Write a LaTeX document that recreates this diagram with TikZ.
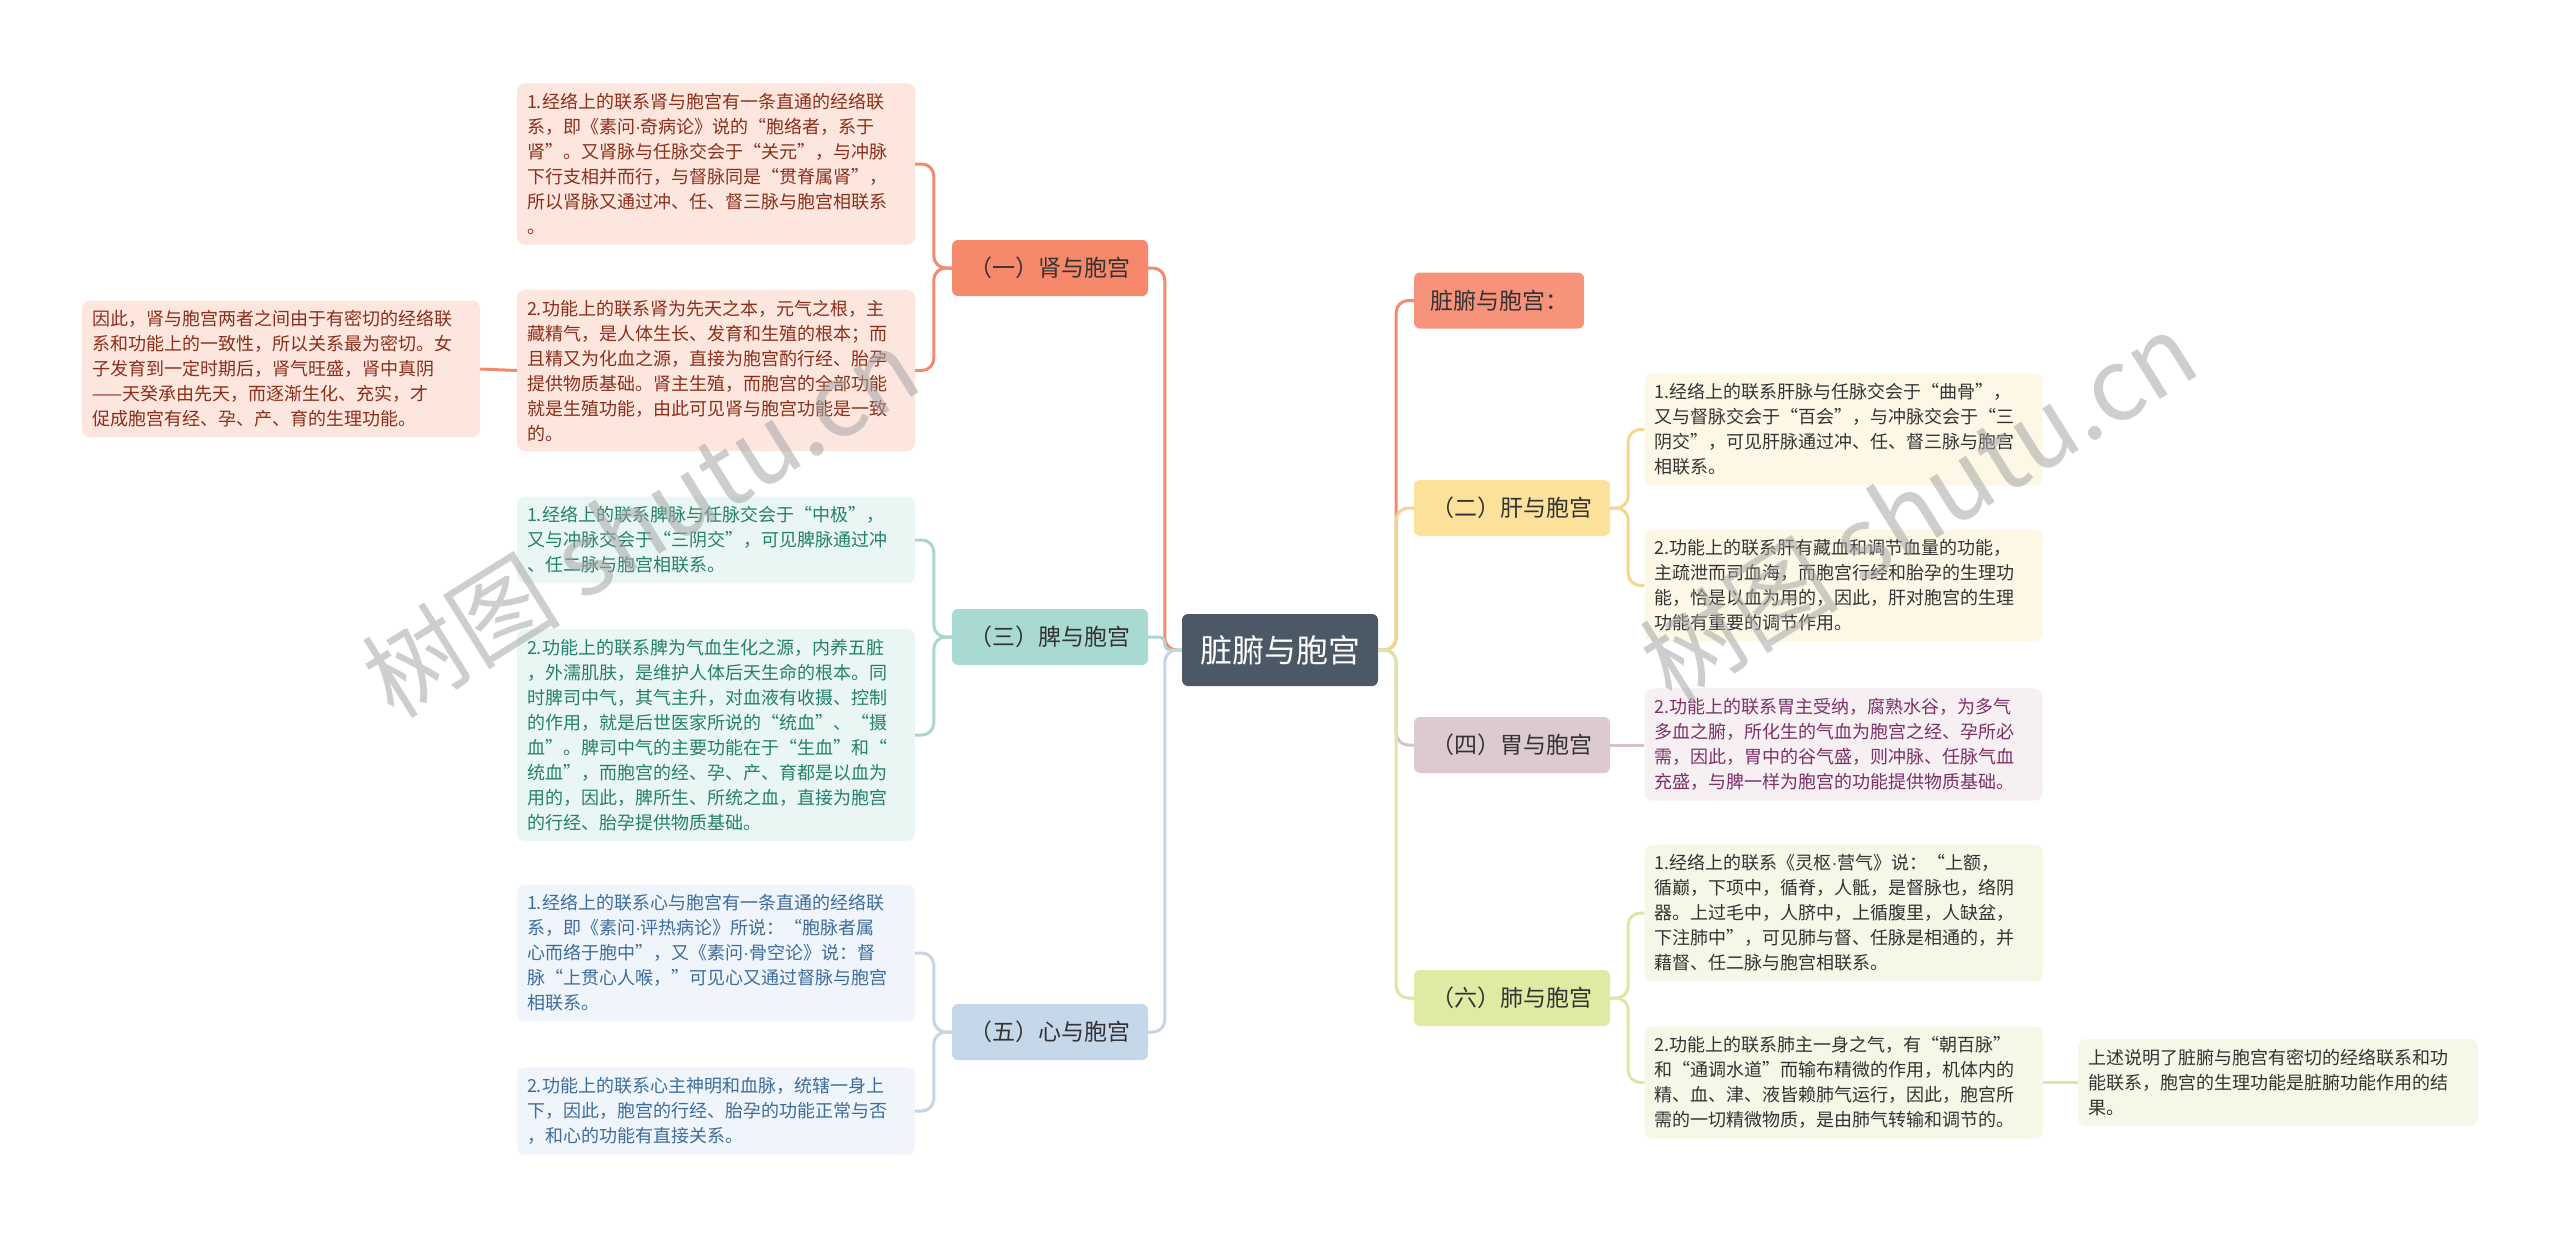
\documentclass[tikz,border=0pt]{standalone}
\usepackage{fontspec}
\setmainfont{Noto Sans CJK SC}
\newfontfamily\latinf{Liberation Sans}
\newcommand{\mdot}{{\latinf ·}}
\definecolor{cdark}{HTML}{4B5966}
\definecolor{kmain}{HTML}{F6896C}
\definecolor{kleaf}{HTML}{FDE6DE}
\definecolor{ktext}{HTML}{8C2F1A}
\definecolor{kline}{HTML}{F28B6E}
\definecolor{pmain}{HTML}{A9DAD2}
\definecolor{pleaf}{HTML}{EAF6F3}
\definecolor{ptext}{HTML}{24806E}
\definecolor{pline}{HTML}{AAD6CE}
\definecolor{xmain}{HTML}{C5D8EA}
\definecolor{xleaf}{HTML}{EFF5FB}
\definecolor{xtext}{HTML}{3D6D9C}
\definecolor{xline}{HTML}{C5D5E3}
\definecolor{zmain}{HTML}{F7937A}
\definecolor{gmain}{HTML}{FCE19A}
\definecolor{gleaf}{HTML}{FDF8E6}
\definecolor{gline}{HTML}{F2D88F}
\definecolor{wmain}{HTML}{DCC9D1}
\definecolor{wleaf}{HTML}{F6F0F3}
\definecolor{wtext}{HTML}{7D3068}
\definecolor{wline}{HTML}{D6C1CC}
\definecolor{fmain}{HTML}{DFEAA2}
\definecolor{fleaf}{HTML}{F5F8E6}
\definecolor{fline}{HTML}{DBE7A3}
\definecolor{dtext}{HTML}{333333}
\begin{document}
\begin{tikzpicture}[x=1pt,y=-1pt,
  leafbox/.style={rounded corners=8pt, inner xsep=10pt, inner ysep=10pt, text width=378pt, align=left, font=\fontsize{18}{25}\selectfont},
  mainbox/.style={rounded corners=6pt, minimum width=196pt, minimum height=56pt, inner sep=0pt, font=\fontsize{23}{28}\selectfont},
  conn/.style={line width=3pt, rounded corners=12pt},
  wmark/.style={rotate=32, text=black!35, text opacity=0.55, font=\fontsize{100}{110}\selectfont}
]
\fill[white] (0,0) rectangle (2560,1239);
\useasboundingbox (0,0) rectangle (2560,1239);

% center
\node[rounded corners=6pt, fill=cdark, text=white, minimum width=196pt, minimum height=72pt, inner sep=0pt, font=\fontsize{32}{36}\selectfont] (c) at (1280,650) {脏腑与胞宫};

% left main
\node[mainbox, fill=kmain, text=dtext] (k) at (1050,268) {（一）肾与胞宫};
\node[mainbox, fill=pmain, text=dtext] (p) at (1050,637) {（三）脾与胞宫};
\node[mainbox, fill=xmain, text=dtext] (x) at (1050,1032) {（五）心与胞宫};

% right main
\node[mainbox, fill=zmain, text=dtext, minimum width=170pt] (z) at (1499,300.5) {脏腑与胞宫：};
\node[mainbox, fill=gmain, text=dtext] (g) at (1512,508) {（二）肝与胞宫};
\node[mainbox, fill=wmain, text=dtext] (w) at (1512,745) {（四）胃与胞宫};
\node[mainbox, fill=fmain, text=dtext] (f) at (1512,998) {（六）肺与胞宫};

% leaves kidney
\node[leafbox, fill=kleaf, text=ktext] (k1) at (716,164) {1.经络上的联系肾与胞宫有一条直通的经络联\\系，即《素问\mdot 奇病论》说的“胞络者，系于\\肾”。又肾脉与任脉交会于“关元”，与冲脉\\下行支相并而行，与督脉同是“贯脊属肾”，\\所以肾脉又通过冲、任、督三脉与胞宫相联系\\。};
\node[leafbox, fill=kleaf, text=ktext] (k2) at (716,370.5) {2.功能上的联系肾为先天之本，元气之根，主\\藏精气，是人体生长、发育和生殖的根本；而\\且精又为化血之源，直接为胞宫酌行经、胎孕\\提供物质基础。肾主生殖，而胞宫的全部功能\\就是生殖功能，由此可见肾与胞宫功能是一致\\的。};
\node[leafbox, fill=kleaf, text=ktext] (kx) at (281,369) {因此，肾与胞宫两者之间由于有密切的经络联\\系和功能上的一致性，所以关系最为密切。女\\子发育到一定时期后，肾气旺盛，肾中真阴\\——天癸承由先天，而逐渐生化、充实，才\\促成胞宫有经、孕、产、育的生理功能。};

% leaves spleen
\node[leafbox, fill=pleaf, text=ptext] (p1) at (716,540) {1.经络上的联系脾脉与任脉交会于“中极”，\\又与冲脉交会于“三阴交”，可见脾脉通过冲\\、任二脉与胞宫相联系。};
\node[leafbox, fill=pleaf, text=ptext] (p2) at (716,735) {2.功能上的联系脾为气血生化之源，内养五脏\\，外濡肌肤，是维护人体后天生命的根本。同\\时脾司中气，其气主升，对血液有收摄、控制\\的作用，就是后世医家所说的“统血”、“摄\\血”。脾司中气的主要功能在于“生血”和“\\统血”，而胞宫的经、孕、产、育都是以血为\\用的，因此，脾所生、所统之血，直接为胞宫\\的行经、胎孕提供物质基础。};

% leaves heart
\node[leafbox, fill=xleaf, text=xtext] (x1) at (716,953) {1.经络上的联系心与胞宫有一条直通的经络联\\系，即《素问\mdot 评热病论》所说：“胞脉者属\\心而络于胞中”，又《素问\mdot 骨空论》说：督\\脉“上贯心人喉，”可见心又通过督脉与胞宫\\相联系。};
\node[leafbox, fill=xleaf, text=xtext] (x2) at (716,1111) {2.功能上的联系心主神明和血脉，统辖一身上\\下，因此，胞宫的行经、胎孕的功能正常与否\\，和心的功能有直接关系。};

% leaves liver
\node[leafbox, fill=gleaf, text=dtext] (g1) at (1843.5,429.5) {1.经络上的联系肝脉与任脉交会于“曲骨”，\\又与督脉交会于“百会”，与冲脉交会于“三\\阴交”，可见肝脉通过冲、任、督三脉与胞宫\\相联系。};
\node[leafbox, fill=gleaf, text=dtext] (g2) at (1843.5,585.5) {2.功能上的联系肝有藏血和调节血量的功能，\\主疏泄而司血海，而胞宫行经和胎孕的生理功\\能，恰是以血为用的，因此，肝对胞宫的生理\\功能有重要的调节作用。};

% leaf stomach
\node[leafbox, fill=wleaf, text=wtext] (w1) at (1843.5,744.5) {2.功能上的联系胃主受纳，腐熟水谷，为多气\\多血之腑，所化生的气血为胞宫之经、孕所必\\需，因此，胃中的谷气盛，则冲脉、任脉气血\\充盛，与脾一样为胞宫的功能提供物质基础。};

% leaves lung
\node[leafbox, fill=fleaf, text=dtext] (f1) at (1843.5,913) {1.经络上的联系《灵枢\mdot 营气》说：“上额，\\循巅，下项中，循脊，人骶，是督脉也，络阴\\器。上过毛中，人脐中，上循腹里，人缺盆，\\下注肺中”，可见肺与督、任脉是相通的，并\\藉督、任二脉与胞宫相联系。};
\node[leafbox, fill=fleaf, text=dtext] (f2) at (1843.5,1082.5) {2.功能上的联系肺主一身之气，有“朝百脉”\\和“通调水道”而输布精微的作用，机体内的\\精、血、津、液皆赖肺气运行，因此，胞宫所\\需的一切精微物质，是由肺气转输和调节的。};
\node[leafbox, fill=fleaf, text=dtext, text width=380pt] (fx) at (2278,1082.5) {上述说明了脏腑与胞宫有密切的经络联系和功\\能联系，胞宫的生理功能是脏腑功能作用的结\\果。};

% connectors center -> main
\draw[conn, draw=kline] (c.west) -- ++(-17,0) |- (k.east);
\draw[conn, draw=pline, rounded corners=6pt] (c.west) -- ++(-17,0) |- (p.east);
\draw[conn, draw=xline] (c.west) -- ++(-17,0) |- (x.east);
\draw[conn, draw=kline] (c.east) -- ++(18,0) |- (z.west);
\draw[conn, draw=gline] (c.east) -- ++(18,0) |- (g.west);
\draw[conn, draw=wline] (c.east) -- ++(18,0) |- (w.west);
\draw[conn, draw=fline] (c.east) -- ++(18,0) |- (f.west);

% main -> leaves
\draw[conn, draw=kline] (k.west) -- ++(-18,0) |- (k1.east);
\draw[conn, draw=kline] (k.west) -- ++(-18,0) |- (k2.east);
\draw[conn, draw=kline] (k2.west) -- (kx.east);
\draw[conn, draw=pline] (p.west) -- ++(-18,0) |- (p1.east);
\draw[conn, draw=pline] (p.west) -- ++(-18,0) |- (p2.east);
\draw[conn, draw=xline] (x.west) -- ++(-18,0) |- (x1.east);
\draw[conn, draw=xline] (x.west) -- ++(-18,0) |- (x2.east);
\draw[conn, draw=gline] (g.east) -- ++(18,0) |- (g1.west);
\draw[conn, draw=gline] (g.east) -- ++(18,0) |- (g2.west);
\draw[conn, draw=wline] (w.east) -- (w.east -| w1.west);
\draw[conn, draw=fline] (f.east) -- ++(18,0) |- (f1.west);
\draw[conn, draw=fline] (f.east) -- ++(18,0) |- (f2.west);
\draw[conn, draw=fline] (f2.east) -- (fx.west);

% watermarks
\node[wmark] (wm1) at (640,522) {树图 shutu.cn};
\node[wmark] (wm2) at (1918,506) {树图 shutu.cn};
\end{tikzpicture}
\end{document}
